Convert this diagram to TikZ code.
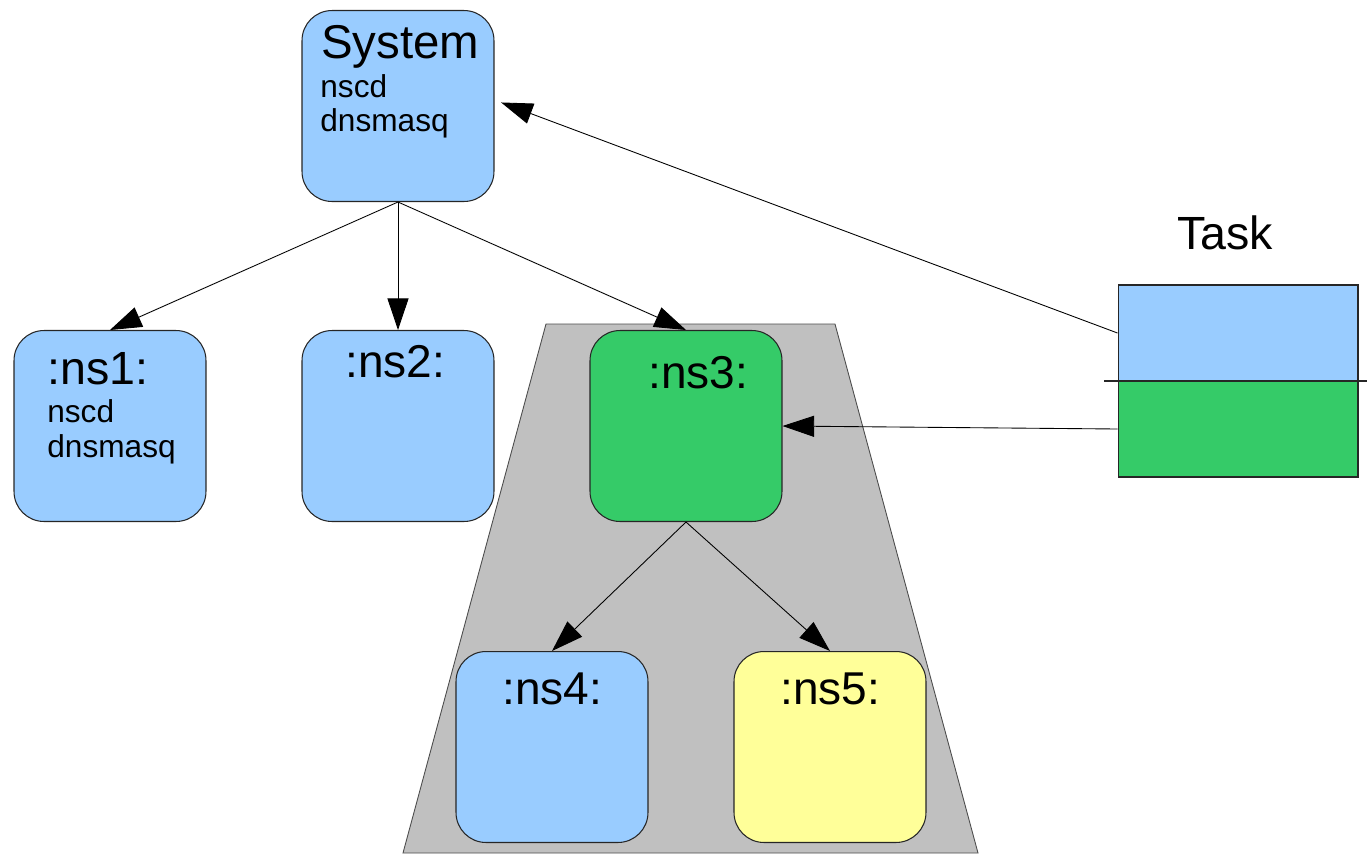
\documentclass[tikz,border=0pt]{standalone}
\usepackage{fontspec}
\setmainfont{Liberation Sans}
\usetikzlibrary{arrows.meta}

\definecolor{nsblue}{HTML}{99CCFF}
\definecolor{nsgreen}{HTML}{35CB68}
\definecolor{nsyellow}{HTML}{FFFF99}
\definecolor{jailgray}{HTML}{C0C0C0}

\tikzset{
	nsbox/.style={draw=black!85, line width=0.6pt, rounded corners=0.6cm,
		minimum width=3.84cm, minimum height=3.82cm, inner sep=0pt},
	nstitle/.style={anchor=base west, inner sep=0pt, font=\fontsize{#1}{#1}\selectfont},
	nsitem/.style={anchor=base west, inner sep=0pt, font=\fontsize{18}{18}\selectfont},
	link/.style={-{Triangle[length=18pt,width=12pt]}, line width=0.5pt},
	taskpart/.style={draw=black!85, line width=0.6pt, minimum width=4.8cm,
		minimum height=1.92cm, inner sep=0pt},
}

\begin{document}
\begin{tikzpicture}[x=0.02cm, y=-0.02cm]
		\useasboundingbox (0,0) rectangle (1367,853);

		% область (trapezoid)
		\draw [fill=jailgray, draw=black!70, line width=0.5pt]
			(546,324) -- (835,324) -- (978,853) -- (403,853) -- cycle;

		% boxes
		\node [nsbox, fill=nsblue] (sys) at (398,106) {};
		\node [nsbox, fill=nsblue] (ns1) at (110,426) {};
		\node [nsbox, fill=nsblue] (ns2) at (398,426) {};
		\node [nsbox, fill=nsgreen] (ns3) at (686,426) {};
		\node [nsbox, fill=nsblue] (ns4) at (552,747) {};
		\node [nsbox, fill=nsyellow] (ns5) at (830,747) {};

		% texts
		\node [nstitle=27] (sysname) at (321,58) {System};
		\node [nsitem] (sysnscd) at (320,97) {nscd};
		\node [nsitem] (sysdns) at (320,131) {dnsmasq};
		\node [nstitle=26.5] (ns1name) at (47,384) {:ns1:};
		\node [nsitem] (ns1nscd) at (47,422) {nscd};
		\node [nsitem] (ns1dns) at (47,457) {dnsmasq};
		\node [nstitle=26.2] (ns2name) at (345,377) {:ns2:};
		\node [nstitle=26.2] (ns3name) at (648,388) {:ns3:};
		\node [nstitle=26.2] (ns4name) at (502,704) {:ns4:};
		\node [nstitle=26.2] (ns5name) at (780,704) {:ns5:};

		% task
		\node [nstitle=26.5] (taskname) at (1177,249) {Task};
		\node [taskpart, fill=nsblue] (taskup) at (1238,333) {};
		\node [taskpart, fill=nsgreen] (taskdown) at (1238,429) {};
		\draw [draw=black!85, line width=0.6pt] (1104,381) -- (1367,381);

		% arrows
		\draw [link] (sys.south) -- (ns1.north);
		\draw [link] (sys.south) -- (ns2.north);
		\draw [link] (sys.south) -- (ns3.north);
		\draw [link] (ns3.south) -- (ns4.north);
		\draw [link] (ns3.south) -- (ns5.north);
		\draw [link, shorten >=4pt] (taskup.west) -- ([yshift=0.12cm]sys.east);
		\draw [link] (taskdown.west) -- (ns3.east);
	\end{tikzpicture}
\end{document}
